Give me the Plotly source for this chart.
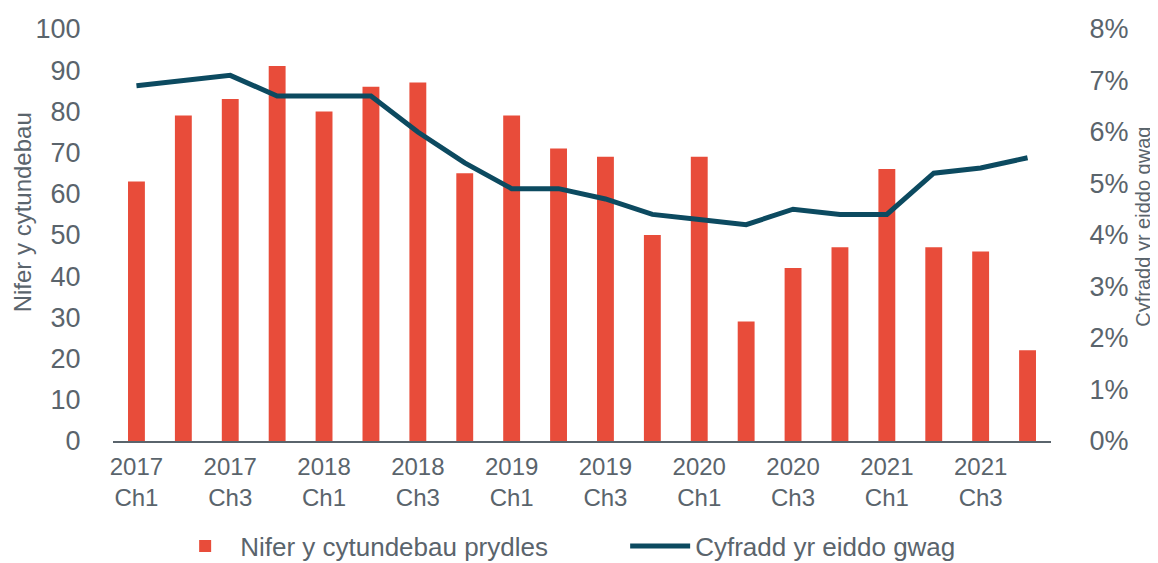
import plotly.graph_objects as go

quarters = [f"{y} Ch{q}" for y in range(2017, 2022) for q in range(1, 5)]
tick_vals = quarters[::2]
tick_text = [q.replace(" ", "<br>") for q in tick_vals]

leases = [63, 79, 83, 91, 80, 86, 87, 65, 79, 71, 69, 50, 69, 29, 42, 47, 66, 47, 46, 22]
vacancy = [6.9, 7.0, 7.1, 6.7, 6.7, 6.7, 6.0, 5.4, 4.9, 4.9, 4.7, 4.4, 4.3, 4.2, 4.5, 4.4, 4.4, 5.2, 5.3, 5.5]
vacancy_frac = [v / 100 for v in vacancy]

bar_name = "Nifer y cytundebau prydles"
line_name = "Cyfradd yr eiddo gwag"
left_title = "Nifer y cytundebau"
right_title = "Cyfradd yr eiddo gwag"

TXT = "#5a646c"
FONT = "Liberation Sans, Arial, sans-serif"

fig = go.Figure()
fig.add_trace(go.Bar(x=quarters, y=leases, name=bar_name, marker_color="#E84C3A",
                     marker_line_width=0, yaxis="y"))
fig.add_trace(go.Scatter(x=quarters, y=vacancy_frac, name=line_name, mode="lines",
                         line=dict(color="#0C4A60", width=5), yaxis="y2"))

fig.update_layout(
    width=1150, height=555,
    margin=dict(l=105, r=107, t=21, b=122, autoexpand=False),
    plot_bgcolor="white", paper_bgcolor="white",
    font=dict(family=FONT, color=TXT),
    bargap=0.64,
    showlegend=True,
    legend=dict(orientation="h", x=0.546, xanchor="center",
                y=-0.255, yanchor="middle",
                font=dict(size=26, color=TXT), itemwidth=60, tracegroupgap=0,
                entrywidth=380, entrywidthmode="pixels",
                bgcolor="rgba(0,0,0,0)"),
    xaxis=dict(type="category", categoryorder="array", categoryarray=quarters,
               tickvals=tick_vals, ticktext=tick_text,
               tickfont=dict(size=24, color=TXT),
               showline=True, linecolor="#5a646c", linewidth=2,
               ticks="outside", ticklen=3, tickcolor="rgba(0,0,0,0)",
               showgrid=False, range=[-0.5, 19.5]),
    yaxis=dict(range=[0, 100], dtick=10, showgrid=False, zeroline=False,
               tickfont=dict(size=27, color=TXT),
               ticks="outside", ticklen=26, tickcolor="rgba(0,0,0,0)"),
    yaxis2=dict(range=[0, 0.08], dtick=0.01, tickformat=".0%", overlaying="y", side="right",
                showgrid=False, zeroline=False,
                tickfont=dict(size=27, color=TXT),
                ticks="outside", ticklen=32, tickcolor="rgba(0,0,0,0)"),
    annotations=[
        dict(text=left_title, xref="paper", yref="paper", x=-0.097, y=0.555,
             xanchor="center", yanchor="middle", textangle=-90, showarrow=False,
             font=dict(size=24, color=TXT)),
        dict(text=right_title, xref="paper", yref="paper", x=1.098, y=0.52,
             xanchor="center", yanchor="middle", textangle=-90, showarrow=False,
             font=dict(size=20, color=TXT)),
    ],
)

fig.write_html("out.html")
